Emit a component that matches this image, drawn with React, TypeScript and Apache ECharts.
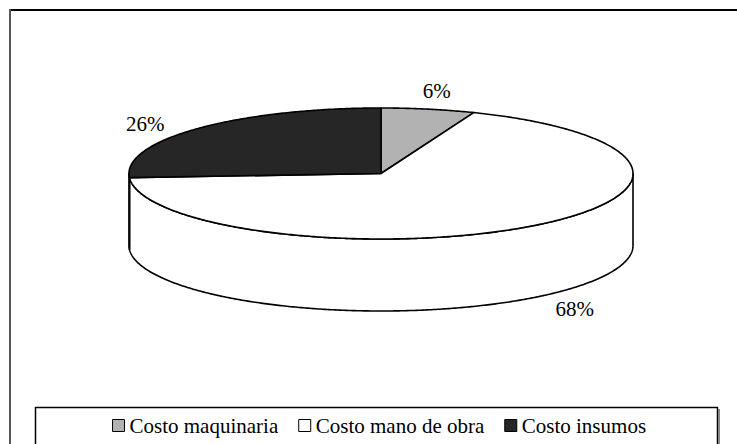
import React, { useEffect, useRef } from "react";
import * as echarts from "echarts";

const categories = ["Costo maquinaria", "Costo mano de obra", "Costo insumos"];
const values = [6, 68, 26];
const percentLabels = ["6%", "68%", "26%"];
const colors = ["#b2b2b2", "#ffffff", "#262626"];

const FONT = "Liberation Serif";
const CX = 381;
const CY = 173.5;
const RX = 252;
const RY = 65.5;
const DEPTH = 72;

function pt(theta: number, drop = 0): number[] {
  return [CX + RX * Math.sin(theta), CY - RY * Math.cos(theta) + drop];
}

function arc(a0: number, a1: number, drop: number): number[][] {
  const n = Math.max(2, Math.ceil(Math.abs(a1 - a0) / (Math.PI / 360)));
  const pts: number[][] = [];
  for (let i = 0; i <= n; i++) {
    const t = a0 + ((a1 - a0) * i) / n;
    pts.push(pt(t, drop));
  }
  return pts;
}

function makeRenderItem(idx: number) {
  return (params: any, api: any) => {
    const total = values.reduce((s, v) => s + v, 0);
    const before = values.slice(0, idx).reduce((s, v) => s + v, 0);
    const a0 = (before / total) * Math.PI * 2;
    const a1 = ((before + values[idx]) / total) * Math.PI * 2;
    const color = colors[idx];
    const children: any[] = [];
    const s = Math.max(a0, Math.PI / 2);
    const e = Math.min(a1, (Math.PI * 3) / 2);
    if (e > s) {
      const wall = arc(s, e, 0).concat(arc(e, s, DEPTH));
      children.push({
        type: "polygon",
        shape: { points: wall },
        style: { fill: color, stroke: "#000", lineWidth: 1.6, lineJoin: "round" },
      });
    }
    const top = [[CX, CY]].concat(arc(a0, a1, 0));
    children.push({
      type: "polygon",
      shape: { points: top },
      style: { fill: color, stroke: "#000", lineWidth: 1.6, lineJoin: "round" },
    });
    const m = (a0 + a1) / 2;
    const sm = Math.sin(m);
    const cm = Math.cos(m);
    const p = pt(m, cm < 0 ? DEPTH : 0);
    const lx = p[0] + 45 * sm;
    const ly = p[1] - 10 * cm;
    const align = sm > 0.3 ? "left" : sm < -0.3 ? "right" : "center";
    const vAlign = cm > 0.9 ? "bottom" : cm < -0.9 ? "top" : "middle";
    children.push({
      type: "text",
      x: lx,
      y: ly + 2,
      style: {
        text: percentLabels[idx],
        fill: "#000",
        fontSize: 21,
        fontFamily: FONT,
        align,
        verticalAlign: vAlign,
      },
    });
    return { type: "group", children };
  };
}

export default function App() {
  const ref = useRef<HTMLDivElement>(null);
  useEffect(() => {
    if (!ref.current) return;
    const chart = echarts.init(ref.current, null, { renderer: "svg" });
    chart.setOption({
      animation: false,
      backgroundColor: "#ffffff",
      textStyle: { fontFamily: FONT },
      legend: {
        data: categories,
        left: 107,
        top: 410,
        icon: "rect",
        itemWidth: 12,
        itemHeight: 12,
        itemGap: 20,
        selectedMode: false,
        itemStyle: { borderColor: "#000", borderWidth: 1 },
        textStyle: { fontFamily: FONT, fontSize: 21, color: "#000" },
      },
      graphic: [
        { type: "line", shape: { x1: 10, y1: 10, x2: 737, y2: 10 }, style: { stroke: "#000", lineWidth: 2 } },
        { type: "line", shape: { x1: 10, y1: 9, x2: 10, y2: 444 }, style: { stroke: "#555", lineWidth: 2 } },
        { type: "rect", shape: { x: 35.5, y: 407.5, width: 682, height: 60 }, style: { fill: "none", stroke: "#000", lineWidth: 1.5 } },
        { type: "line", shape: { x1: 719, y1: 409, x2: 719, y2: 444 }, style: { stroke: "#888", lineWidth: 2 } },
      ],
      series: categories.map((name, i) => ({
        type: "custom",
        name,
        coordinateSystem: "none",
        itemStyle: { color: colors[i], borderColor: "#000", borderWidth: 1 },
        data: [[i, values[i]]],
        renderItem: makeRenderItem(i),
        silent: true,
      })),
    });
    return () => chart.dispose();
  }, []);
  return (
    <div
      ref={ref}
      style={{ position: "absolute", left: 0, top: 0, width: 737, height: 444 }}
    />
  );
}
